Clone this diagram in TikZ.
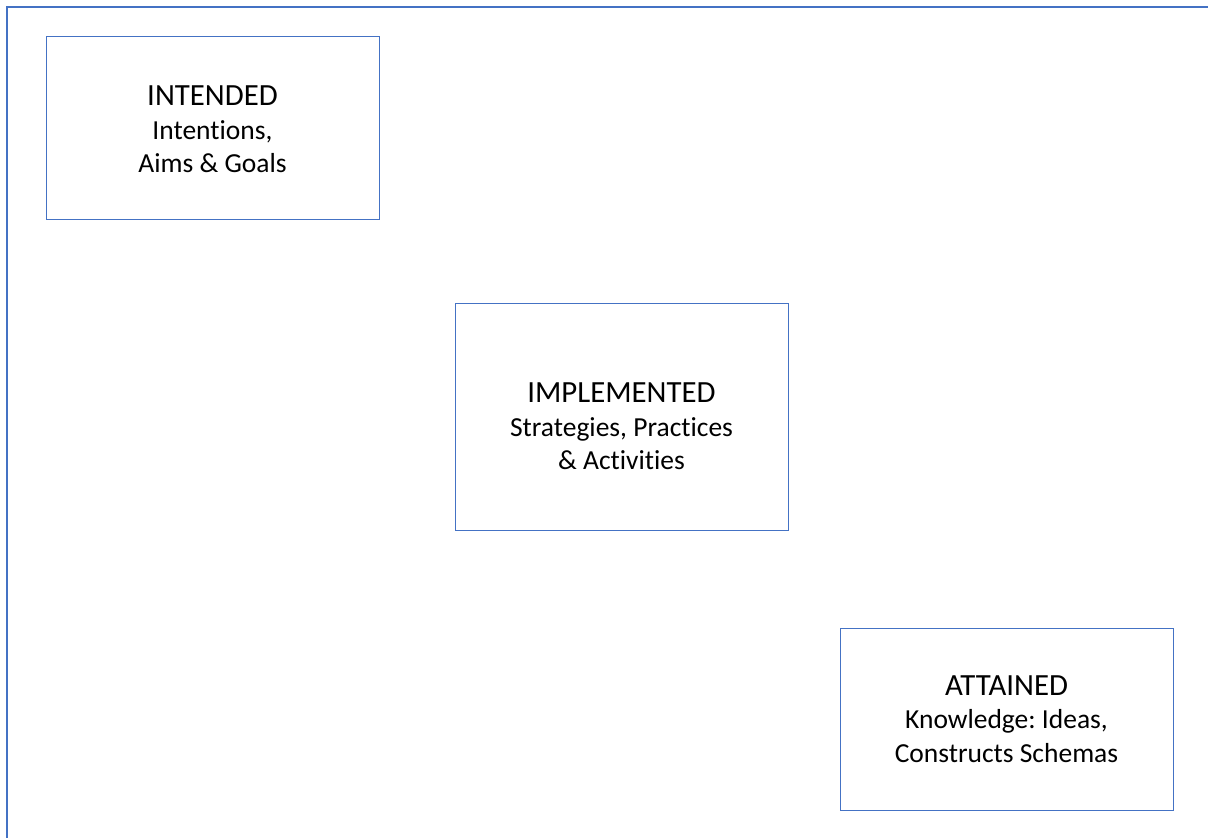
\documentclass[tikz,border=0pt]{standalone}
\usepackage{fontspec}
\setmainfont{Carlito}[Ligatures={NoCommon,NoRare,NoDiscretionary}]
\usepackage{xcolor}
\usepackage{tikz}
\usetikzlibrary{positioning}

\definecolor{frameblue}{HTML}{4472C4}
\newcommand{\stagetitle}{\fontsize{30.8}{33.5}\selectfont}
\frenchspacing

\begin{document}
\begin{tikzpicture}[
    x=1pt,y=-1pt,
    stage/.style={rectangle,draw=frameblue,line width=1pt,minimum width=333pt,
      align=center,inner sep=0pt,font=\fontsize{27.5}{33.5}\selectfont}
]
\useasboundingbox (0,0) rectangle (1208,838);
\clip (0,0) rectangle (1208,838);
\draw[frameblue,line width=2.2pt] (7,7) rectangle (1230,860);

\node[stage,minimum height=183pt] (intended) at (212.5,127.5)
  {\rule{0pt}{24pt}{\stagetitle INTENDED}\\Intentions,\\Aims \& Goals};
\node[stage,minimum height=227pt] (implemented) at (621.5,416.5)
  {\rule{0pt}{40pt}{\stagetitle IMPLEMENTED}\\Strategies, Practices\\\& Activities};
\node[stage,minimum height=182pt] (attained) at (1006.5,719)
  {{\stagetitle ATTAINED}\\Knowledge: Ideas,\\Constructs Schemas};
\end{tikzpicture}
\end{document}
